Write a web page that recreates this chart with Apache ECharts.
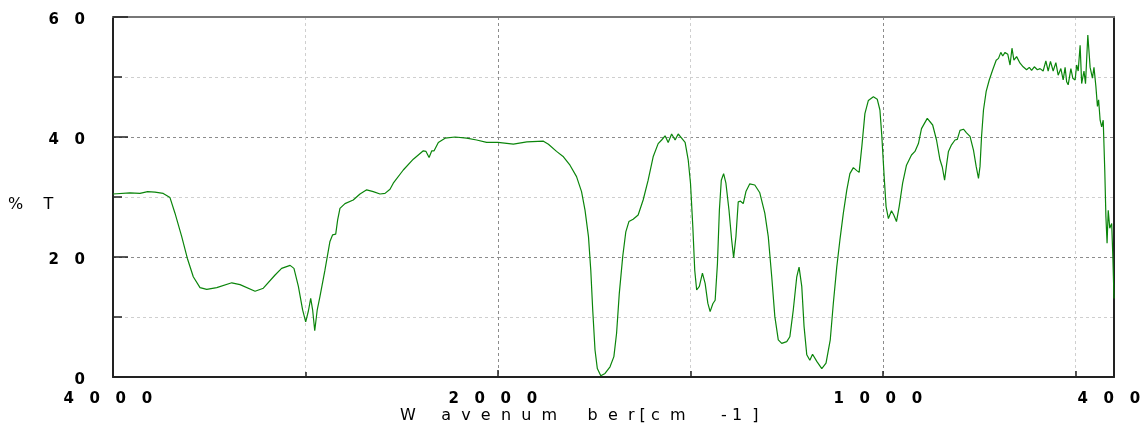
<!DOCTYPE html>
<html>
<head>
<meta charset="utf-8">
<script src="https://cdn.jsdelivr.net/npm/echarts@6/dist/echarts.min.js"></script>
<style>
  html, body { margin: 0; padding: 0; background: #fff; }
  #chart { width: 1143px; height: 424px; }
</style>
</head>
<body>
<div id="chart"></div>
<script>
// wavenumber [cm-1], high to low
const wavenumbers = [
  4000, 3912, 3860, 3820, 3782, 3739, 3704, 3678, 3643, 3614, 3583, 3548, 3513, 3461, 3383, 3340,
  3262, 3219, 3158, 3124, 3080, 3060, 3037, 3015, 2999, 2985, 2973, 2963, 2952, 2939, 2925, 2899,
  2873, 2859, 2843, 2833, 2821, 2795, 2752, 2717, 2682, 2648, 2613, 2587, 2561, 2544, 2492, 2440,
  2388, 2374, 2358, 2344, 2332, 2310, 2275, 2223, 2163, 2111, 2059, 2024, 2000,
  1960, 1925, 1882, 1869, 1848, 1830, 1813, 1796, 1783, 1774, 1765, 1759, 1754, 1748, 1742, 1733,
  1722, 1709, 1699, 1692, 1685, 1676, 1668, 1660, 1649, 1636, 1623, 1610, 1597, 1584, 1575, 1566,
  1558, 1549, 1540, 1532, 1523, 1514, 1506, 1500, 1494, 1489, 1484, 1477, 1469, 1462, 1455, 1449,
  1442, 1436, 1430, 1425, 1420, 1414, 1408, 1400, 1393, 1388, 1382, 1376, 1370, 1363, 1356, 1346,
  1333, 1320, 1307, 1298, 1289, 1281, 1272, 1263, 1250, 1242, 1233, 1224, 1218, 1211, 1205, 1198,
  1190, 1183, 1172, 1159, 1148, 1137, 1129, 1120, 1112, 1103, 1094, 1086, 1077, 1068, 1062, 1055,
  1047, 1038, 1025, 1015, 1008, 1003, 997, 992, 986, 978, 972, 965, 958, 949, 939, 926,
  917, 908, 900, 885, 871, 861, 852, 846, 840, 835, 830, 822, 813, 807, 800, 791,
  783, 774, 765, 758, 752, 748, 744, 739, 732, 724, 715, 706, 700, 694, 689, 683,
  676, 670, 665, 660, 653, 644, 636, 627, 620, 614, 607, 599, 592, 584, 577, 571,
  565, 558, 551, 545, 538, 532, 527, 523, 519, 512, 507, 501, 497, 493, 488, 484,
  478, 474, 468, 462, 456, 452, 447, 443, 440, 436, 432, 428, 424, 421, 418, 415,
  411, 406, 403, 400
];
// %T at each wavenumber
const transmittance = [
  30.5, 30.7, 30.6, 30.9, 30.8, 30.6, 29.9, 27.3, 23.4, 19.8, 16.7, 14.9, 14.6, 14.9, 15.7, 15.4,
  14.3, 14.8, 17.0, 18.1, 18.6, 18.1, 15.1, 11.2, 9.2, 11.0, 13.1, 11.2, 7.7, 11.2, 13.4, 17.8,
  22.6, 23.7, 23.8, 26.2, 28.1, 28.9, 29.5, 30.5, 31.2, 30.9, 30.5, 30.6, 31.3, 32.3, 34.5, 36.3,
  37.7, 37.6, 36.6, 37.7, 37.7, 39.1, 39.8, 40.0, 39.8, 39.5, 39.1, 39.1, 39.1,
  38.8, 39.2, 39.3, 38.8, 37.6, 36.7, 35.3, 33.4, 30.9, 27.8, 23.4, 17.8, 11.2, 4.5, 1.4, 0.2,
  0.6, 1.7, 3.4, 7.3, 13.9, 20.1, 24.2, 25.9, 26.3, 27.0, 29.5, 32.8, 36.7, 38.9, 39.5, 40.2,
  39.1, 40.5, 39.5, 40.5, 39.8, 39.1, 36.2, 32.3, 25.1, 17.8, 14.5, 15.1, 17.3, 15.6, 12.3, 10.9,
  12.2, 12.8, 18.9, 27.8, 32.8, 33.9, 32.3, 27.8, 22.8, 19.9, 23.4, 29.2, 29.3, 28.9, 30.9, 32.2,
  32.0, 30.7, 27.3, 23.4, 16.7, 10.1, 6.2, 5.6, 5.9, 6.7, 11.2, 16.7, 18.3, 15.1, 8.4, 3.7,
  2.8, 3.8, 2.6, 1.4, 2.3, 6.2, 12.3, 18.4, 22.8, 27.3, 31.2, 33.9, 34.9, 34.4, 34.1, 38.4,
  43.9, 46.1, 46.7, 46.3, 44.5, 40.1, 33.4, 28.4, 26.4, 27.7, 27.0, 25.9, 28.4, 32.3, 35.3, 37.0,
  37.6, 38.9, 41.4, 43.1, 42.0, 39.5, 36.2, 35.0, 32.8, 35.3, 37.6, 38.7, 39.5, 39.6, 41.1, 41.3,
  40.7, 40.1, 37.8, 35.1, 33.1, 35.1, 40.1, 44.5, 47.6, 49.5, 51.2, 52.8, 53.1, 54.1, 53.5, 54.1,
  53.8, 52.0, 54.8, 52.8, 53.4, 52.3, 51.7, 51.2, 51.6, 51.1, 51.7, 51.2, 51.4, 51.0, 52.7, 51.0,
  52.6, 51.0, 52.4, 50.3, 51.4, 49.5, 51.6, 49.2, 48.7, 51.4, 49.8, 49.5, 52.0, 51.0, 55.3, 48.9,
  51.0, 48.9, 57.0, 51.6, 49.8, 51.6, 48.4, 45.1, 46.2, 42.8, 41.7, 42.8, 34.5, 26.7, 22.3, 27.8,
  24.8, 25.6, 20.1, 13.1
];
// tick labels (the axis is drawn in two scale segments split at 2000)
const xLabelsHigh = [4000, 2000];
const xLabelsLow = [1000, 400];
const yLabels = [0, 20, 40, 60];
const xTitle = 'W     a  v  e  n  u  m      b  e  r [ c  m       - 1  ]';
const yTitle = '%    T';

const points = wavenumbers.map((w, i) => [w, transmittance[i]]);
const highData = points.filter(p => p[0] >= 2000);
const lowData = points.filter(p => p[0] <= 2000);

const frame = '#222';
const dark = '#8c8c8c';
const light = '#cfcfcf';
const dash = [3, 3];
const labelFont = { fontFamily: 'DejaVu Sans', fontWeight: 'bold', fontSize: 15, color: '#000' };

// "4000" -> "4   0   0   0  "
function spaced(v) {
  return String(v).split('').join('   ') + '  ';
}

const chart = echarts.init(document.getElementById('chart'));

chart.setOption({
  animation: false,
  backgroundColor: '#fff',
  grid: [
    { left: 113, top: 17, width: 385, height: 360, outerBoundsMode: 'none', containLabel: false },
    { left: 498, top: 17, width: 616, height: 360, outerBoundsMode: 'none', containLabel: false }
  ],
  xAxis: [
    {
      gridIndex: 0, type: 'value', min: 2000, max: 4000, interval: 2000, inverse: true, position: 'bottom',
      axisLine: { onZero: false, lineStyle: { color: frame, width: 2 } },
      axisTick: { inside: true, length: 7, lineStyle: { color: frame, width: 1.5 } },
      minorTick: { show: true, splitNumber: 2, length: 5, lineStyle: { color: frame, width: 1.5 } },
      splitLine: { show: true, lineStyle: { color: dark, type: dash } },
      minorSplitLine: { show: true, lineStyle: { color: light, type: dash } },
      axisLabel: {
        ...labelFont, margin: 15,
        formatter: v => xLabelsHigh.includes(v) ? spaced(v) : ''
      }
    },
    {
      gridIndex: 1, type: 'value', min: 400, max: 2000, splitNumber: 3, inverse: true, position: 'bottom',
      axisLine: { onZero: false, lineStyle: { color: frame, width: 2 } },
      axisTick: { inside: true, length: 6, lineStyle: { color: frame, width: 1.5 } },
      splitLine: { show: true, lineStyle: { color: [dark, light], type: dash } },
      axisLabel: {
        ...labelFont, margin: 15,
        formatter: v => xLabelsLow.includes(v) ? spaced(v) : ''
      }
    },
    {
      gridIndex: 0, type: 'value', min: 2000, max: 4000, inverse: true, position: 'top',
      axisLine: { onZero: false, lineStyle: { color: '#777', width: 2 } },
      axisTick: { show: false }, axisLabel: { show: false }, splitLine: { show: false }
    },
    {
      gridIndex: 1, type: 'value', min: 400, max: 2000, inverse: true, position: 'top',
      axisLine: { onZero: false, lineStyle: { color: '#777', width: 2 } },
      axisTick: { show: false }, axisLabel: { show: false }, splitLine: { show: false }
    }
  ],
  yAxis: [
    {
      gridIndex: 0, type: 'value', min: 0, max: 60, interval: 20, position: 'left',
      axisLine: { show: true, onZero: false, lineStyle: { color: frame, width: 2 } },
      axisTick: { show: true, inside: true, length: 15, lineStyle: { color: frame, width: 1.5 } },
      minorTick: { show: true, splitNumber: 2, length: 9, lineStyle: { color: frame, width: 1.5 } },
      splitLine: { show: true, lineStyle: { color: dark, type: dash } },
      minorSplitLine: { show: true, lineStyle: { color: light, type: dash } },
      axisLabel: {
        ...labelFont, margin: 28, verticalAlign: 'top', lineHeight: 6,
        formatter: v => yLabels.includes(v) ? String(v).split('').join('   ') : ''
      }
    },
    {
      gridIndex: 1, type: 'value', min: 0, max: 60, interval: 20, position: 'left',
      axisLine: { show: false }, axisTick: { show: false }, axisLabel: { show: false },
      minorTick: { show: false, splitNumber: 2 },
      splitLine: { show: true, lineStyle: { color: dark, type: dash } },
      minorSplitLine: { show: true, lineStyle: { color: light, type: dash } }
    },
    {
      gridIndex: 1, type: 'value', min: 0, max: 60, position: 'right',
      axisLine: { show: true, onZero: false, lineStyle: { color: frame, width: 2 } },
      axisTick: { show: false }, axisLabel: { show: false }, splitLine: { show: false }
    }
  ],
  graphic: [
    {
      type: 'text', x: 400, y: 416,
      style: { text: xTitle, font: '16px "DejaVu Sans"', fill: '#000', align: 'left', verticalAlign: 'middle' }
    },
    {
      type: 'text', x: 8, y: 205,
      style: { text: yTitle, font: '16px "DejaVu Sans"', fill: '#000', align: 'left', verticalAlign: 'middle' }
    }
  ],
  series: [
    {
      type: 'line', xAxisIndex: 0, yAxisIndex: 0, data: highData,
      symbol: 'none', silent: true,
      lineStyle: { color: '#0b850b', width: 1.2 }
    },
    {
      type: 'line', xAxisIndex: 1, yAxisIndex: 1, data: lowData,
      symbol: 'none', silent: true,
      lineStyle: { color: '#0b850b', width: 1.2 }
    }
  ]
});
</script>
</body>
</html>
